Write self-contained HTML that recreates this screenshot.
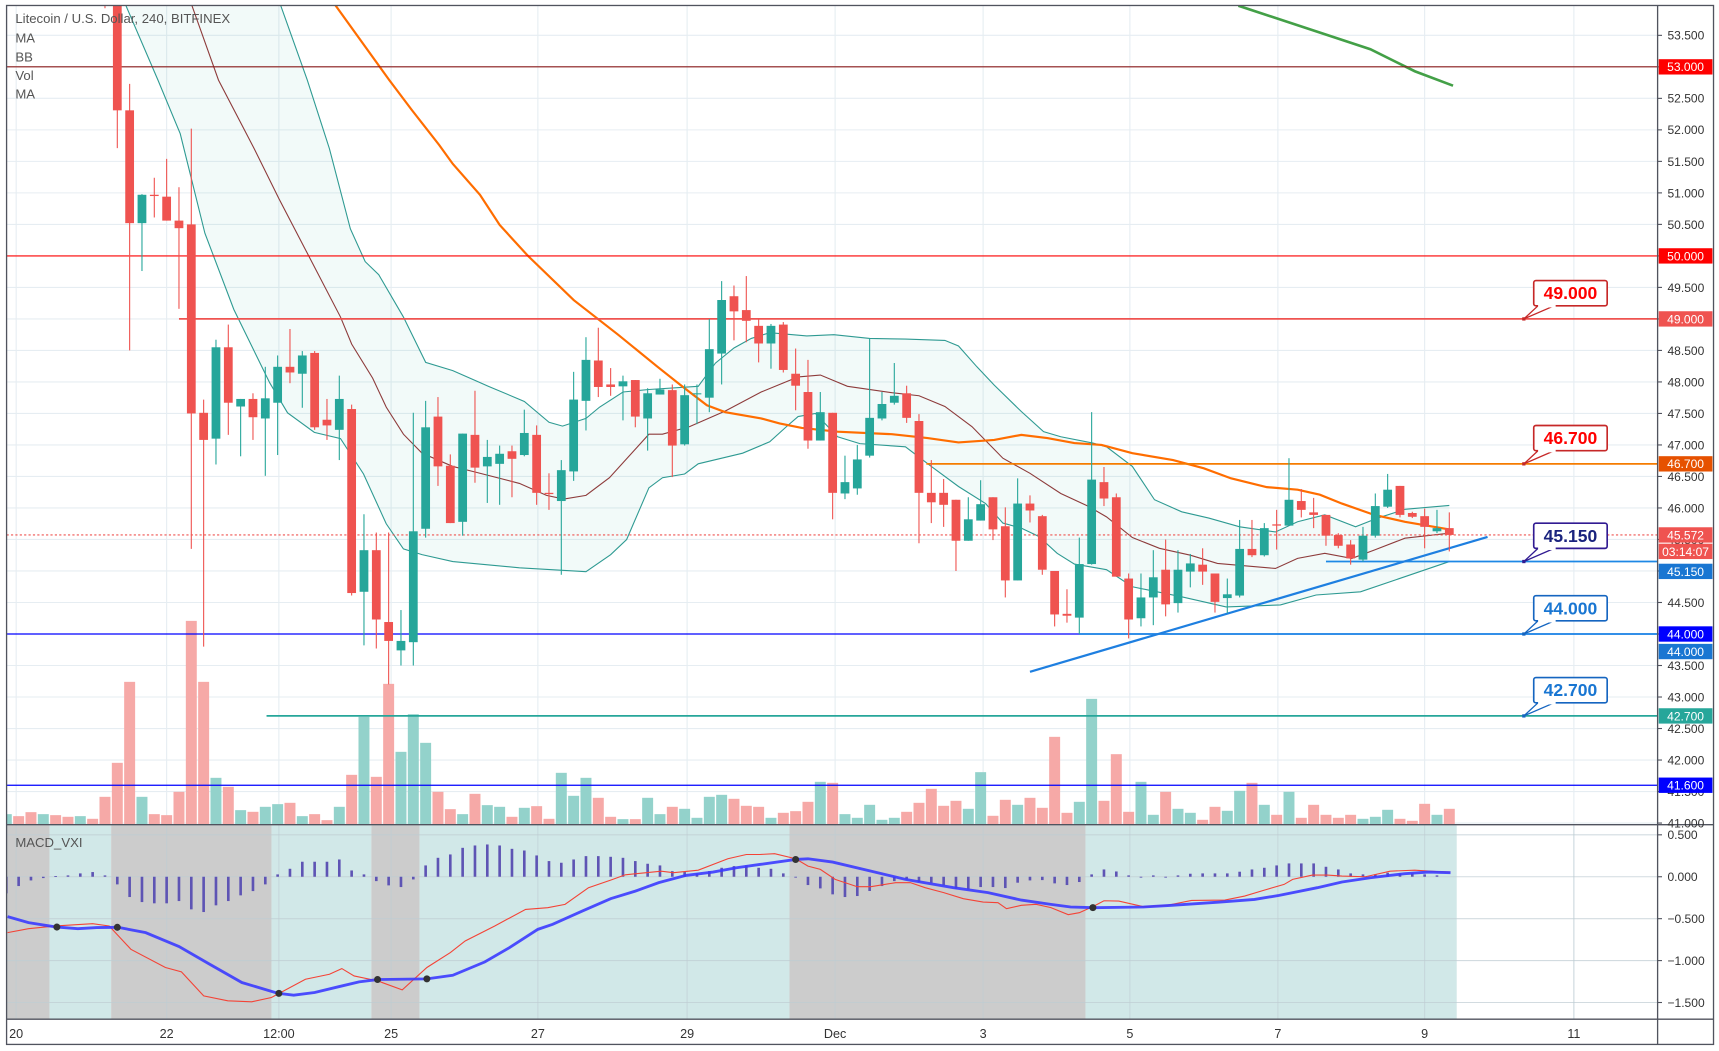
<!DOCTYPE html>
<html><head><meta charset="utf-8"><style>
html,body{margin:0;padding:0;background:#fff;overflow:hidden}
svg{display:block;font-family:"Liberation Sans",Arial,sans-serif}
</style></head>
<body>
<svg id="chart" width="1719" height="1051" viewBox="0 0 1568 959" preserveAspectRatio="none" xmlns="http://www.w3.org/2000/svg">
<defs>
<clipPath id="mainClip"><rect x="6" y="5" width="1506" height="747"/></clipPath>
<clipPath id="macdClip"><rect x="6" y="753" width="1506" height="177"/></clipPath>
</defs>
<rect x="0" y="0" width="1568" height="959" fill="#fff"/>
<g id="grid"></g>
<g id="volume" clip-path="url(#mainClip)"></g>
<g id="macdPane" clip-path="url(#macdClip)"></g>
<g id="main" clip-path="url(#mainClip)"></g>
<g id="axes"></g>
<g id="legend" font-size="12" fill="#555">
<text x="14" y="21">Litecoin / U.S. Dollar, 240, BITFINEX</text>
<text x="14" y="39">MA</text>
<text x="14" y="56">BB</text>
<text x="14" y="73">Vol</text>
<text x="14" y="90">MA</text>
<text x="14" y="773">MACD_VXI</text>
</g>
</svg>
<script>
// ---- data ----
const firstIdx = -1;
const opens  = [54.6,54.0,52.31,50.52,50.97,50.94,50.56,50.5,47.51,47.1,48.55,47.61,47.73,47.42,47.67,48.24,48.13,48.46,47.4,47.24,47.57,44.67,45.33,44.19,43.74,43.87,45.67,47.45,46.67,45.78,47.16,46.66,46.7,46.9,46.84,47.16,46.24,46.11,46.58,47.7,48.34,47.96,47.93,48.03,47.42,47.8,47.87,47.01,47.81,47.75,48.45,49.36,49.14,48.89,48.61,48.91,48.13,47.84,47.07,47.51,46.23,46.31,46.83,47.42,47.67,47.82,47.38,46.24,46.24,46.13,45.48,45.8,46.17,45.71,44.85,46.07,45.87,45.0,44.32,44.26,45.11,46.41,46.17,44.88,44.25,44.58,45.02,44.49,44.99,45.1,44.96,44.57,44.61,45.35,45.25,45.74,45.72,46.11,45.93,45.89,45.57,45.42,45.18,45.56,46.02,46.35,45.92,45.87,45.63,45.68];
const highs  = [54.8,54.2,52.73,50.98,51.24,51.54,51.09,52.02,47.72,48.67,48.91,47.73,47.82,48.24,48.42,48.84,48.49,48.49,47.73,48.1,47.64,45.9,45.61,45.61,44.38,47.51,47.7,47.76,46.85,47.18,47.86,47.08,46.99,46.99,47.56,47.31,46.55,46.76,48.16,48.71,48.86,48.22,48.1,48.03,47.9,48.05,47.96,47.96,47.96,49.0,49.6,49.53,49.68,49.0,48.92,48.95,48.53,48.35,47.84,47.51,46.83,47.0,48.69,47.84,48.3,47.94,47.49,46.76,46.46,46.13,46.17,46.44,46.17,46.01,46.47,46.2,45.89,45.0,44.71,45.53,47.52,46.65,46.23,44.96,44.96,45.33,45.5,45.33,45.27,45.36,44.96,44.88,45.81,45.81,45.76,45.97,46.79,46.3,46.16,45.89,45.6,45.49,45.7,46.23,46.54,46.35,45.94,45.99,45.97,45.93];
const lows   = [53.93,51.71,48.5,49.76,50.61,50.56,49.16,45.35,43.8,46.69,47.16,46.82,47.08,46.51,46.84,47.98,47.59,47.24,47.08,46.76,44.61,43.82,43.77,43.2,43.5,43.5,45.53,46.35,45.76,45.56,46.4,46.08,46.05,46.17,46.82,46.05,45.97,44.94,46.43,47.23,47.76,47.78,47.39,47.28,46.91,47.8,46.49,46.99,47.33,47.52,47.96,48.66,48.63,48.31,48.21,48.15,47.55,46.94,47.07,45.82,46.14,46.21,46.8,47.39,47.64,47.35,45.44,45.76,45.7,45.0,45.48,45.8,45.49,44.58,44.85,45.77,44.94,44.12,44.18,44.0,45.1,46.03,44.91,43.93,44.12,44.14,44.28,44.34,44.74,44.78,44.34,44.33,44.58,45.22,45.23,45.34,45.72,45.85,45.68,45.4,45.36,45.1,45.15,45.53,46.0,45.85,45.84,45.36,45.6,45.31];
const closes = [54.2,52.31,50.52,50.97,50.95,50.56,50.44,47.5,47.08,48.55,47.67,47.73,47.44,47.74,48.24,48.15,48.42,47.28,47.31,47.73,44.65,45.33,44.23,43.89,43.89,45.63,47.28,46.66,45.76,47.18,46.64,46.81,46.86,46.78,47.19,46.24,46.22,46.6,47.72,48.35,47.92,47.92,48.01,47.45,47.82,47.88,46.99,47.79,47.82,48.52,49.3,49.12,48.97,48.61,48.89,48.19,47.94,47.07,47.52,46.24,46.41,46.77,47.43,47.65,47.78,47.43,46.24,46.09,46.05,45.48,45.82,46.06,45.66,44.85,46.07,45.96,45.02,44.31,44.29,45.11,46.45,46.15,44.91,44.23,44.58,44.9,44.47,45.02,45.12,44.99,44.51,44.63,45.35,45.25,45.68,45.72,46.13,45.97,45.89,45.56,45.4,45.2,45.56,46.03,46.29,45.89,45.86,45.7,45.68,45.572];
const volumes = [82,184,427,82,30,27,97,610,427,139,112,42,37,52,60,64,24,30,12,52,148,322,142,421,217,330,244,97,45,30,91,57,52,22,49,54,16,154,85,139,79,22,15,15,79,30,52,46,19,82,88,76,55,52,19,34,39,67,127,124,30,19,58,13,19,37,64,106,55,70,46,156,25,73,58,79,49,262,34,67,376,70,210,37,127,28,97,46,34,13,52,40,100,124,58,28,97,19,58,28,19,28,16,22,43,16,10,61,28,46];
// volume of candles left of the visible price range (indices -9..-2)
const preVolFirstIdx = -9;
const preVolumes = [30,24,36,30,27,22,24,16];
const preVolUp = [true,false,false,true,false,false,true,false];

// Bollinger bands & moving averages (sampled: candle index, price)
const bbUpperIdx = [13.2,15.4,17.2,18.9,20.1,21.2,23.2,25.0,27.2,30.1,33.0,35.0,36.1,38.0,39.1,41.0,43.1,47.1,48.5,50.0,51.4,52.9,55.9,58.1,61.0,63.9,67.1,68.2,69.7,71.1,73.3,75.1,76.5,79.1,80.2,82.3,84.1,86.3,88.5,91.0,93.9,95.7,97.9,100.4,102.2,104.4,108.0];
const bbUpperVal = [54.0,52.79,51.7,50.43,49.91,49.7,49.03,48.31,48.18,47.93,47.69,47.36,47.3,47.42,47.6,47.84,47.88,47.93,48.3,48.54,48.69,48.78,48.73,48.75,48.69,48.68,48.66,48.57,48.24,47.95,47.53,47.21,47.13,47.03,46.97,46.66,46.13,45.94,45.84,45.7,45.62,45.78,45.89,45.7,45.84,45.98,46.04];
const bbLowerIdx = [0.7,3.3,5.1,7.1,9.45,12.35,13.8,15.97,18.1,19.96,21.8,23.2,24.7,27.2,32.6,38.0,40.0,41.3,43.1,44.2,46.0,47.1,50.7,52.9,54.3,55.2,56.6,58.4,60.2,63.9,66.0,68.2,70.4,71.8,73.3,74.7,76.2,77.6,80.2,82.3,86.3,89.9,94.3,97.2,100.8,104.4,108.0];
const bbLowerVal = [53.97,52.79,51.94,50.36,49.15,47.99,47.51,47.2,47.1,46.54,45.75,45.35,45.26,45.15,45.05,44.99,45.26,45.5,46.32,46.48,46.54,46.7,46.87,47.05,47.3,47.45,47.5,47.13,47.02,46.97,46.66,46.34,46.07,45.76,45.68,45.55,45.28,45.11,45.02,44.75,44.59,44.43,44.46,44.62,44.67,44.91,45.15];
const bbBasisIdx = [6.0,8.2,11.1,13.1,15.2,18.1,19.0,20.7,21.8,23.2,24.7,27.2,29.0,32.6,34.8,36.2,38.0,39.9,43.1,44.2,46.4,49.3,52.2,55.2,57.0,59.2,62.8,65.0,67.1,69.3,71.8,74.0,76.5,78.7,80.2,82.3,84.5,87.0,89.2,93.9,95.7,97.9,100.1,101.9,104.4,108.0];
const bbBasisVal = [54.0,52.79,51.7,50.91,50.12,49.03,48.6,48.06,47.6,47.17,46.87,46.66,46.57,46.39,46.2,46.14,46.2,46.48,47.17,47.17,47.29,47.54,47.84,48.08,48.11,47.93,47.83,47.78,47.61,47.29,46.79,46.55,46.23,46.03,45.86,45.53,45.36,45.25,45.12,45.04,45.2,45.28,45.2,45.33,45.52,45.6];
const maOrangeIdx = [17.6,22.05,23.9,26.1,27.2,29.4,31.0,33.3,37.0,40.6,43.8,46.0,47.8,49.3,52.2,53.7,55.5,58.4,62.8,65.7,68.2,71.1,73.3,75.4,77.6,79.8,82.3,85.6,88.1,90.3,93.2,95.7,97.5,99.3,101.9,104.4,108.0];
const maOrangeVal = [54.0,52.79,52.31,51.76,51.46,50.97,50.49,50.0,49.3,48.75,48.24,47.9,47.63,47.52,47.42,47.34,47.27,47.21,47.17,47.11,47.04,47.08,47.16,47.11,47.03,47.0,46.87,46.76,46.63,46.47,46.33,46.29,46.21,46.07,45.89,45.78,45.66];
const maGreenIdx = [90.9,101.6,105.2,108.3];
const maGreenVal = [53.97,53.28,52.93,52.7];

// MACD
const histFirstIdx = -9;
const histVals = [-0.198,-0.111,-0.044,-0.016,0.008,0.016,0.04,0.056,0.016,-0.091,-0.242,-0.302,-0.317,-0.317,-0.29,-0.389,-0.421,-0.341,-0.29,-0.222,-0.171,-0.091,0.028,0.095,0.179,0.179,0.179,0.206,0.075,0.028,-0.052,-0.103,-0.123,-0.032,0.135,0.226,0.266,0.345,0.373,0.385,0.373,0.333,0.313,0.254,0.187,0.167,0.206,0.246,0.246,0.238,0.226,0.187,0.155,0.135,0.067,0.056,0.04,0.067,0.107,0.127,0.135,0.107,0.095,0.04,0.0,-0.099,-0.139,-0.21,-0.242,-0.23,-0.17,-0.111,-0.052,-0.032,-0.063,-0.071,-0.103,-0.143,-0.151,-0.123,-0.123,-0.135,-0.071,-0.044,-0.04,-0.079,-0.099,-0.063,0.028,0.087,0.063,0.016,0.0,0.016,0.0,0.016,0.036,0.04,0.04,0.04,0.06,0.087,0.107,0.135,0.159,0.159,0.159,0.119,0.087,0.04,0.028,0.028,0.048,0.04,0.04,0.028,0.016];
const macdIdx = [-8.9,-7.2,-5.0,-2.0,-0.66,1.1,3.9,5.2,7.0,8.96,10.9,12.5,15.25,17.2,18.2,19.2,21.1,23.1,25.1,27.0,28.2,30.6,33.1,34.9,36.3,38.2,40.0,41.2,44.1,45.1,47.1,49.5,51.0,52.1,53.3,55.0,56.0,57.0,58.2,60.0,61.1,63.1,64.3,65.5,67.0,68.6,70.2,71.4,72.1,73.3,74.5,75.7,77.1,78.0,79.2,80.0,81.2,83.2,85.1,87.1,89.8,91.4,93.0,94.6,95.3,96.9,98.1,99.3,101.2,103.2,105.2,107.1,108.1];
const macdVal = [-0.667,-0.619,-0.587,-0.56,-0.587,-0.865,-1.083,-1.135,-1.421,-1.48,-1.492,-1.44,-1.222,-1.163,-1.095,-1.183,-1.242,-1.349,-1.083,-0.905,-0.766,-0.587,-0.389,-0.369,-0.329,-0.131,-0.04,0.024,0.067,0.048,0.079,0.214,0.266,0.266,0.274,0.214,0.127,0.087,-0.032,-0.119,-0.119,-0.071,-0.071,-0.131,-0.19,-0.262,-0.302,-0.31,-0.381,-0.341,-0.329,-0.369,-0.452,-0.429,-0.349,-0.286,-0.29,-0.357,-0.341,-0.282,-0.278,-0.23,-0.159,-0.091,-0.032,0.02,0.02,0.008,0.0,0.067,0.079,0.06,0.056];
const signalIdx = [-8.9,-7.2,-5.0,-3.2,-1.65,0.04,2.3,5.0,7.4,10.1,13.0,14.3,16.0,18.0,19.6,21.1,25.1,27.2,29.8,31.8,34.1,35.3,37.7,40.0,42.0,43.9,46.1,48.3,50.2,52.1,55.0,56.0,58.0,61.1,63.9,67.8,70.6,73.3,75.7,77.3,79.2,83.2,85.5,89.4,92.2,94.2,97.3,99.3,101.6,104.4,106.3,108.1];
const signalVal = [-0.476,-0.548,-0.599,-0.619,-0.607,-0.603,-0.667,-0.833,-1.036,-1.262,-1.389,-1.413,-1.381,-1.31,-1.254,-1.226,-1.218,-1.175,-1.016,-0.845,-0.627,-0.567,-0.409,-0.262,-0.171,-0.071,0.016,0.056,0.107,0.147,0.206,0.214,0.175,0.067,-0.032,-0.131,-0.19,-0.278,-0.329,-0.361,-0.369,-0.361,-0.341,-0.302,-0.27,-0.222,-0.131,-0.063,-0.012,0.036,0.056,0.048];
const crossIdx = [-4.9,0.0,13.1,21.1,25.1,55.0,79.1];
const shadeFrom = [-9.8,-5.5,-0.5,12.5,20.6,24.5,54.5,78.5];
const shadeTo   = [-5.5,-0.5,12.5,20.6,24.5,54.5,78.5,108.6];
const shadeBear = [true,false,true,false,true,false,true,false];

// horizontal levels
const levelPrices = [53,50,49,46.7,45.15,44,44,42.7,41.6];
const levelFromIdx = [-10,-10,5.0,65.6,98.0,-10,78.0,12.1,-10];
const levelColors = ['#8b1a1a','#ff0000','#ef5350','#f57c00','#1e88e5','#0000ff','#1e88e5','#26a69a','#0000ff'];
const levelWidths = [1,1,1.6,1.6,1.6,1.2,1.6,1.6,1.2];
const tagPrices = [53,50,49,46.7,45.572,45.15,44,44,42.7,41.6];
const tagColors = ['#ff0000','#ff0000','#ef5350','#e65100','#ef5350','#1976d2','#0000ff','#1976d2','#26a69a','#0000ff'];
const tagShift = [0,0,0,0,0,9,0,16,0,0];
const calloutPrices = [49,46.7,45.15,44,42.7];
const calloutColors = ['#ff0000','#ff0000','#1a237e','#1976d2','#1976d2'];
const calloutBorders = ['#c62828','#c62828','#311b92','#1565c0','#1565c0'];
const trendIdx = [74.0,111.1];
const trendVal = [43.4,45.54];
const priceTicks = [53.5,53,52.5,52,51.5,51,50.5,50,49.5,49,48.5,48,47.5,47,46.5,46,45.5,45,44.5,44,43.5,43,42.5,42,41.5,41];
const macdTicks = [0.5,0,-0.5,-1,-1.5];
const timeLabels = ['20','22','12:00','25','27','29','Dec','3','5','7','9','11'];
const timeIdx = [-8.2,4.0,13.1,22.2,34.1,46.2,58.2,70.2,82.1,94.1,106.0,118.1];

// ---- axis functions ----
const X = i => 107 + i*11.25;
const Y = p => 61 + (53-p)*57.5;
const YM = v => 800 - v*76.5;
const VH = v => v/3/1.0963;
const NS='http://www.w3.org/2000/svg';
function el(tag, attrs, parent){const e=document.createElementNS(NS,tag);for(const k in attrs)e.setAttribute(k,attrs[k]);parent.appendChild(e);return e;}
const grid=document.getElementById('grid'), vol=document.getElementById('volume'), main=document.getElementById('main'), mp=document.getElementById('macdPane'), axes=document.getElementById('axes');

// grid
priceTicks.forEach(p=>{const g=el('line',{x1:6,x2:1512,y1:Y(p),y2:Y(p),stroke:'#e6edf2','stroke-width':1},grid);

});
timeIdx.forEach(i=>{const g=el('line',{x1:X(i),x2:X(i),y1:5,y2:930,stroke:'#e6edf2','stroke-width':1},grid);

});

// MACD pane
for(let k=0;k<shadeFrom.length;k++){const r=el('rect',{x:X(shadeFrom[k]),y:753,width:X(shadeTo[k])-X(shadeFrom[k]),height:177,fill:shadeBear[k]?'#cccccc':'#d1e8e8'},mp);

}
macdTicks.forEach(v=>{const g=el('line',{x1:6,x2:1512,y1:YM(v),y2:YM(v),stroke:'#bfcdd3','stroke-width':1,opacity:0.7},mp);

});
timeIdx.forEach(i=>{const g=el('line',{x1:X(i),x2:X(i),y1:753,y2:930,stroke:'#bfcdd3','stroke-width':1,opacity:0.6},mp);

});
histVals.forEach((v,k)=>{const i=histFirstIdx+k;const y0=YM(0),y1=YM(v);
const b=el('rect',{x:X(i)-1.2,y:Math.min(y0,y1),width:2.4,height:Math.max(0.8,Math.abs(y1-y0)),fill:'#5e54b4'},mp);

});
function poly(idx,val,fy){return idx.map((i,k)=>X(i).toFixed(1)+','+fy(val[k]).toFixed(1)).join(' ');}
const ml=el('polyline',{points:poly(macdIdx,macdVal,YM),fill:'none',stroke:'#f44336','stroke-width':1},mp);


const sl=el('polyline',{points:poly(signalIdx,signalVal,YM),fill:'none',stroke:'#3b3bff','stroke-width':2.6,'stroke-opacity':0.9},mp);


function interp(idx,val,i){for(let k=0;k<idx.length-1;k++){if(i>=idx[k]&&i<=idx[k+1]){const t=(i-idx[k])/(idx[k+1]-idx[k]);return val[k]+t*(val[k+1]-val[k]);}}return val[val.length-1];}
crossIdx.forEach(i=>{const d=el('circle',{cx:X(i),cy:YM(interp(signalIdx,signalVal,i)),r:3.2,fill:'#333'},mp);

});

// volume
preVolumes.forEach((v,k)=>{const i=preVolFirstIdx+k;const h=VH(v);
const b=el('rect',{x:X(i)-5,y:752-h,width:10,height:h,fill:preVolUp[k]?'#93d2cb':'#f6a9a7'},vol);

});
volumes.forEach((v,k)=>{const i=firstIdx+k;const up=closes[k]>=opens[k];const h=VH(v);
const b=el('rect',{x:X(i)-5,y:752-h,width:10,height:h,fill:up?'#93d2cb':'#f6a9a7'},vol);

});

// BB fill
const upPts=bbUpperIdx.map((i,k)=>X(i)+','+Y(bbUpperVal[k]));
const loPts=bbLowerIdx.map((i,k)=>X(i)+','+Y(bbLowerVal[k])).reverse();
const fill=el('polygon',{points:[X(bbLowerIdx[0])+','+Y(56),X(bbUpperIdx[0])+','+Y(56)].concat(upPts,loPts).join(' '),fill:'#26a69a','fill-opacity':0.06,stroke:'none'},main);


const bu=el('polyline',{points:poly(bbUpperIdx,bbUpperVal,Y),fill:'none',stroke:'#2e9a92','stroke-width':1},main);


const bl=el('polyline',{points:poly(bbLowerIdx,bbLowerVal,Y),fill:'none',stroke:'#2e9a92','stroke-width':1},main);


const bb=el('polyline',{points:poly(bbBasisIdx,bbBasisVal,Y),fill:'none',stroke:'#8d3b3b','stroke-width':1},main);


const mo=el('polyline',{points:poly(maOrangeIdx,maOrangeVal,Y),fill:'none',stroke:'#ff6d00','stroke-width':2},main);


const mg=el('polyline',{points:poly(maGreenIdx,maGreenVal,Y),fill:'none',stroke:'#43a047','stroke-width':2.4},main);



// levels
levelPrices.forEach((p,k)=>{const l=el('line',{x1:Math.max(6,X(levelFromIdx[k])),x2:1512,y1:Y(p),y2:Y(p),stroke:levelColors[k],'stroke-width':levelWidths[k]},main);

});
const cp=el('line',{x1:6,x2:1512,y1:Y(closes[closes.length-1]),y2:Y(closes[closes.length-1]),stroke:'#ef5350','stroke-width':1,'stroke-dasharray':'2,2'},main);


const tl=el('line',{x1:X(trendIdx[0]),y1:Y(trendVal[0]),x2:X(trendIdx[1]),y2:Y(trendVal[1]),stroke:'#1e7fe0','stroke-width':2},main);



// candles
opens.forEach((o,k)=>{const i=firstIdx+k,c=closes[k],up=c>=o,col=up?'#26a69a':'#ef5350';
const w=el('line',{x1:X(i),x2:X(i),y1:Y(highs[k]),y2:Y(lows[k]),stroke:col,'stroke-width':1},main);


const top=Y(Math.max(o,c)),bot=Y(Math.min(o,c));
const b=el('rect',{x:X(i)-4,y:top,width:8,height:Math.max(1,bot-top),fill:col},main);

});

// callouts
calloutPrices.forEach((p,k)=>{const g=el('g',{},main);


const y=Y(p),bt=y-35,bb2=y-12;
el('polygon',{points:`1404,${bb2-1} 1390,${y} 1420,${bb2-1}`,fill:'#fff',stroke:calloutBorders[k],'stroke-width':1.2},g);
el('rect',{x:1399,y:bt,width:67,height:23,rx:2,fill:'#fff',stroke:calloutBorders[k],'stroke-width':1.5},g);
el('rect',{x:1403,y:bb2-2.5,width:16,height:4,fill:'#fff'},g);
el('rect',{x:1388.5,y:y-1.5,width:3,height:3,fill:calloutBorders[k]},g);
const t=el('text',{x:1432.5,y:bt+17,'text-anchor':'middle','font-size':16,'font-weight':'bold',fill:calloutColors[k]},g);t.textContent=p.toFixed(3);});

// axes frame
const fr=el('rect',{x:6,y:5,width:1557,height:948,fill:'none',stroke:'#50535e','stroke-width':1.2},axes);


const pa=el('line',{x1:1512,x2:1512,y1:5,y2:953,stroke:'#50535e','stroke-width':1.2},axes);


const sep=el('line',{x1:6,x2:1563,y1:752.5,y2:752.5,stroke:'#50535e','stroke-width':1.2},axes);


const ta=el('line',{x1:6,x2:1563,y1:930,y2:930,stroke:'#50535e','stroke-width':1.2},axes);


priceTicks.forEach(p=>{const y=Y(p);el('line',{x1:1512,x2:1516,y1:y,y2:y,stroke:'#50535e'},axes);
const t=el('text',{x:1521,y:y+4,'font-size':11,fill:'#333'},axes);t.textContent=p.toFixed(3);

});
macdTicks.forEach(v=>{const y=YM(v);el('line',{x1:1512,x2:1516,y1:y,y2:y,stroke:'#50535e'},axes);
const t=el('text',{x:1521,y:y+4,'font-size':11,fill:'#333'},axes);t.textContent=(v<0?'\u2212':'')+Math.abs(v).toFixed(3);

});
timeLabels.forEach((s,k)=>{const t=el('text',{x:X(timeIdx[k]),y:947,'font-size':11.5,fill:'#333','text-anchor':'middle'},axes);t.textContent=s;

});
tagPrices.forEach((p,k)=>{const y=Y(p)+tagShift[k];
const r=el('rect',{x:1513,y:y-7,width:49,height:14,fill:tagColors[k]},axes);


const t=el('text',{x:1537.5,y:y+4,'font-size':11,fill:'#fff','text-anchor':'middle'},axes);t.textContent=p.toFixed(3);});
const cd=el('rect',{x:1513,y:Y(closes[closes.length-1])+8,width:49,height:14,fill:'#ef5350'},axes);


const cdt=el('text',{x:1537.5,y:Y(closes[closes.length-1])+19,'font-size':11,fill:'#fff','text-anchor':'middle'},axes);cdt.textContent='03:14:07';
</script>
</body></html>
